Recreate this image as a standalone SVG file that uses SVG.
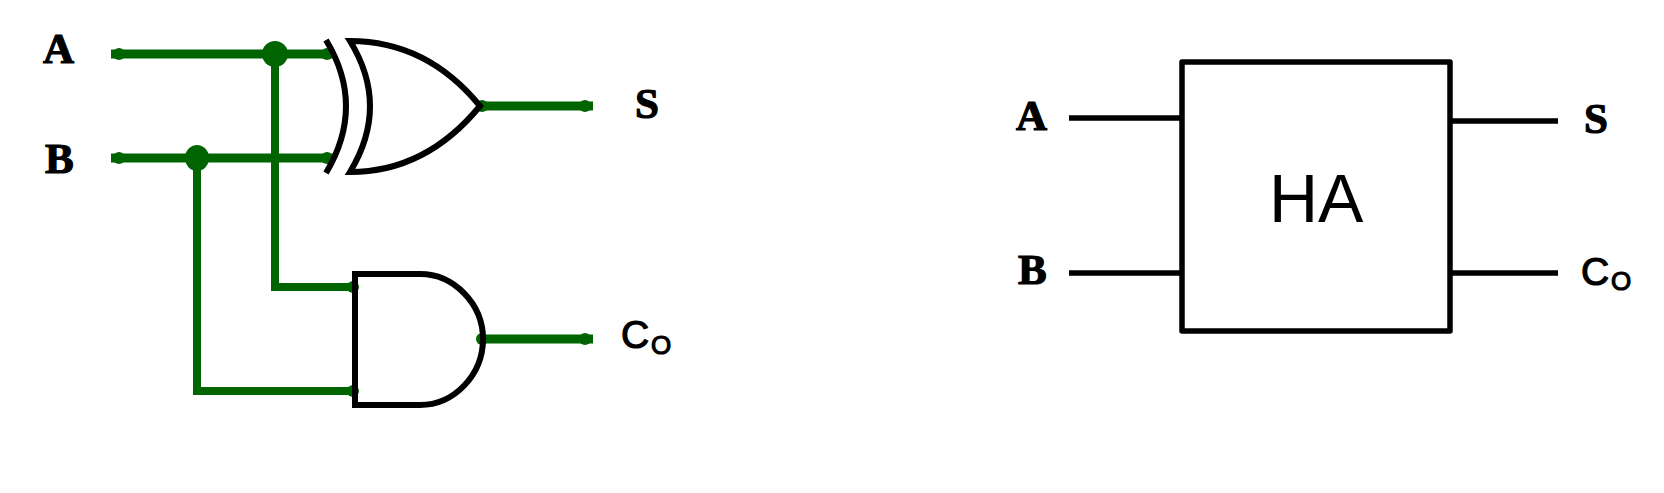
<svg xmlns="http://www.w3.org/2000/svg" width="1664" height="493" viewBox="0 0 1664 493">
<style>
.w{fill:none;stroke:#006400;stroke-width:9}
.v{fill:none;stroke:#006400;stroke-width:8;stroke-linejoin:miter}
.d{fill:#006400}
.g{fill:none;stroke:#000;stroke-width:6;stroke-linejoin:miter}
.k{fill:none;stroke:#000;stroke-width:5.5}
.m{font-family:"Liberation Serif",serif;font-weight:bold;font-size:43px;fill:#000;stroke:#000;stroke-width:1.2}
.c{font-family:"Liberation Sans",sans-serif;fill:#000;stroke:#000;stroke-width:1.2}
</style>
<rect width="1664" height="493" fill="#fff"/>
<g id="connectors">
<path class="w" d="M111 54H335M111 158H335M480 106H593M480 339H593"/>
<path class="v" d="M275 54V287H353M197 158V391H353"/>
<g class="d">
<ellipse cx="275" cy="54" rx="13" ry="13"/>
<ellipse cx="197" cy="158" rx="12" ry="13"/>
<circle cx="119" cy="54" r="6"/><circle cx="119" cy="158" r="6"/>
<circle cx="327" cy="54" r="6"/><circle cx="327" cy="158" r="6"/>
<circle cx="482" cy="106" r="6"/><circle cx="585" cy="106" r="6"/>
<circle cx="353" cy="287" r="6"/><circle cx="353" cy="391" r="6"/>
<circle cx="482" cy="339" r="6"/><circle cx="585" cy="339" r="6"/>
</g>
<path class="k" d="M1069 118H1182M1069 273H1182M1450 121H1558M1450 273H1558"/>
</g>
<g id="xor-gate">
<path class="g" d="M326 40Q366 106 326 173"/>
<path class="g" d="M350 41Q390 106 350 172C400 172 444 150 480 106C444 62 400 41 350 41Z"/>
</g>
<g id="and-gate">
<path class="g" d="M355 274H420C454 274 483 304 483 339C483 375 454 405 420 405H355Z"/>
</g>
<g id="label-a"><text class="m" x="43" y="63">A</text></g>
<g id="label-b"><text class="m" x="45" y="173">B</text></g>
<g id="label-s"><text class="m" x="635" y="118">S</text></g>
<g id="label-co"><text class="c" x="621" y="348" font-size="39">C</text><text class="c" x="651" y="354" font-size="26" stroke-width=".8">O</text></g>
<g id="ha-block">
<rect x="1182" y="62" width="268" height="269" fill="none" stroke="#000" stroke-width="5.5" stroke-linejoin="round"/>
<text x="1269" y="222" font-size="68" font-family="Liberation Sans, sans-serif" fill="#000">HA</text>
</g>
<g id="ha-label-a"><text class="m" x="1016" y="130">A</text></g>
<g id="ha-label-b"><text class="m" x="1018" y="284">B</text></g>
<g id="ha-label-s"><text class="m" x="1584" y="133">S</text></g>
<g id="ha-label-co"><text class="c" x="1581" y="285" font-size="39">C</text><text class="c" x="1611" y="290" font-size="26" stroke-width=".8">O</text></g>
</svg>
